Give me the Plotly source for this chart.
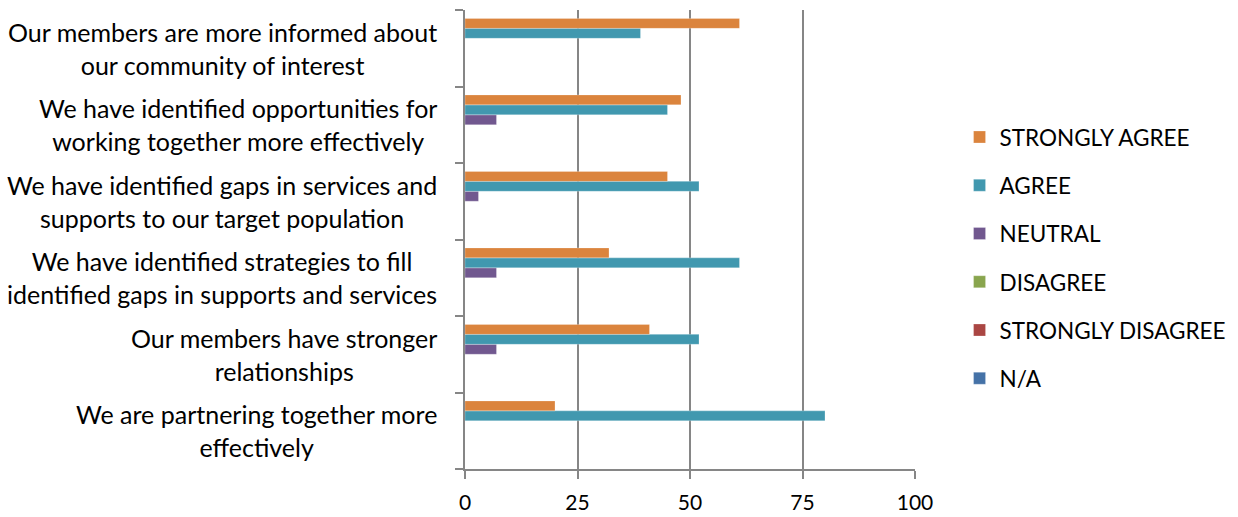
import plotly.graph_objects as go

categories = [
    "Our members are more informed about<br>our community of interest",
    "We have identified opportunities for<br>working together more effectively",
    "We have identified gaps in services and<br>supports to our target population",
    "We have identified strategies to fill<br>identified gaps in supports and services",
    "Our members have stronger<br>relationships",
    "We are partnering together more<br>effectively",
]
series_names = ["STRONGLY AGREE", "AGREE", "NEUTRAL", "DISAGREE", "STRONGLY DISAGREE", "N/A"]
strongly_agree = [61, 48, 45, 32, 41, 20]
agree = [39, 45, 52, 61, 52, 80]
neutral = [0, 7, 3, 7, 7, 0]
disagree = [0, 0, 0, 0, 0, 0]
strongly_disagree = [0, 0, 0, 0, 0, 0]
na = [0, 0, 0, 0, 0, 0]
colors = ["#DB843D", "#4198AF", "#71588F", "#89A54E", "#AA4643", "#4572A7"]
x_ticks = [0, 25, 50, 75, 100]

values = [strongly_agree, agree, neutral, disagree, strongly_disagree, na]

fig = go.Figure()
# add in reverse so STRONGLY AGREE sits on top within each group
series = list(zip(series_names, values, colors))
for rank in reversed(range(len(series))):
    name, vals, col = series[rank]
    fig.add_trace(go.Bar(
        y=categories, x=vals, name=name, orientation="h", legendgroup=name,
        legendrank=rank + 1,
        marker=dict(color=col, line=dict(color="rgba(255,255,255,0.5)", width=0.5)),
    ))

FONT = "Lato, 'Open Sans', sans-serif"

# category labels as centered multi-line annotations
for cat in categories:
    fig.add_annotation(
        xref="paper", yref="y", x=-0.058, y=cat, text=cat,
        showarrow=False, xanchor="right", yanchor="middle", align="center",
        font=dict(family=FONT, size=25, color="#000000"),
    )

fig.update_layout(
    barmode="group",
    bargap=0.22,
    bargroupgap=0,
    width=1238, height=517,
    margin=dict(l=465, r=323, t=10, b=48, autoexpand=False),
    plot_bgcolor="white", paper_bgcolor="white",
    font=dict(family=FONT, size=20, color="#000000"),
    legend=dict(
        traceorder="grouped",
        x=1.099, xanchor="left", y=0.46, yanchor="middle",
        font=dict(size=22.5),
        tracegroupgap=16,
        itemwidth=30,
    ),
    xaxis=dict(
        range=[0, 100], tickvals=x_ticks,
        showgrid=True, gridcolor="#868686", gridwidth=1.5,
        showline=True, linecolor="#868686", linewidth=1.5,
        ticks="outside", ticklen=8, tickcolor="#868686", tickwidth=1.5,
        zeroline=False, tickfont=dict(size=21),
        ticklabelstandoff=6,
    ),
    yaxis=dict(
        categoryorder="array", categoryarray=list(reversed(categories)),
        showline=True, linecolor="#868686", linewidth=1.5,
        ticks="outside", ticklen=8, tickcolor="#868686", tickwidth=1.5,
        tickson="boundaries", showgrid=False,
        showticklabels=False,
    ),
)

fig.write_html("out.html")
